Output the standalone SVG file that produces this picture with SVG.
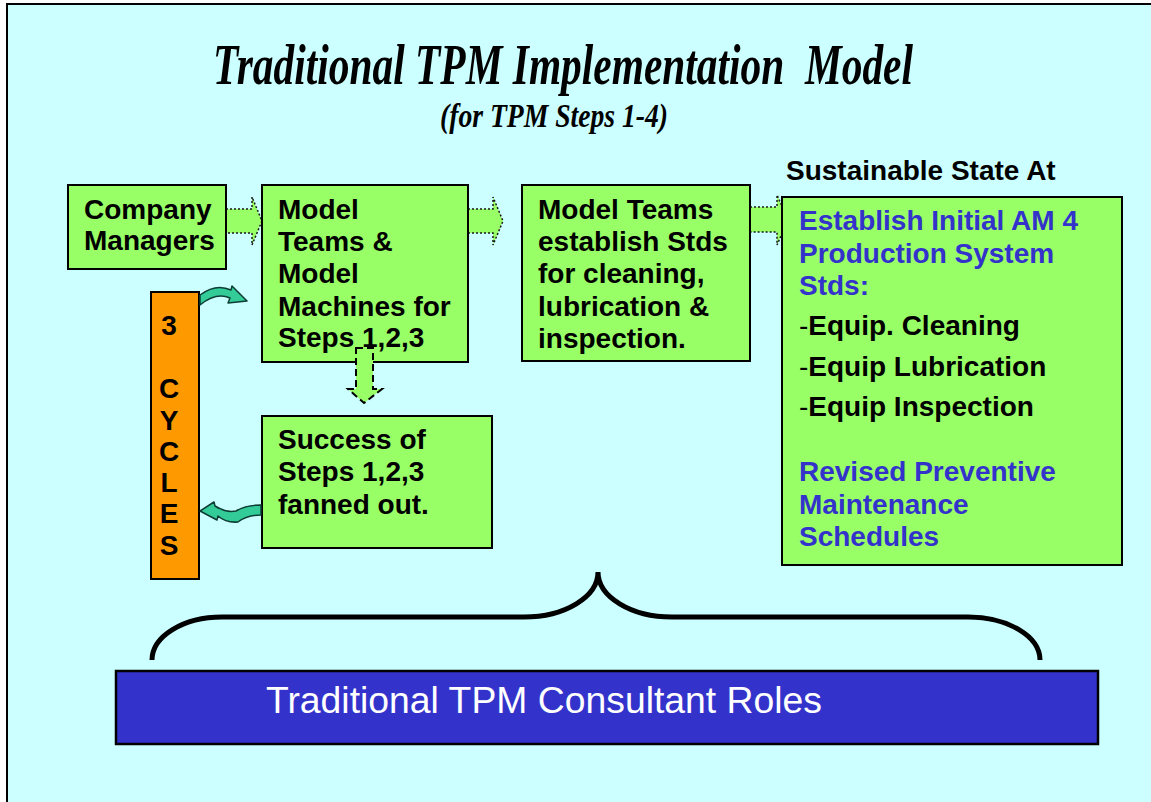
<svg xmlns="http://www.w3.org/2000/svg" width="1151" height="802" viewBox="0 0 1151 802">
<defs>
<style>
.box{fill:#99FF66;stroke:#000;stroke-width:2}
.t{font-family:"Liberation Sans",Arial,sans-serif;font-weight:bold;font-size:28px;fill:#000}
.blue{fill:#3333CC}
.dot{fill:#99FF66;stroke:#1a1a1a;stroke-width:1.5;stroke-dasharray:2 2}
.dash{fill:#99FF66;stroke:#000;stroke-width:2;stroke-dasharray:7 4}
.curl{fill:#33CC99;stroke:#0d3d33;stroke-width:1.5;stroke-linejoin:round}
.title{font-family:"Liberation Serif","Times New Roman",serif;font-weight:bold;font-style:italic;fill:#000}
</style>
</defs>
<rect x="0" y="0" width="1151" height="802" fill="#FFFFFF"/>
<rect id="frame" x="7" y="4" width="1200" height="900" fill="#CCFFFF" stroke="#000" stroke-width="2"/>

<g id="title">
<text class="title" x="213" y="84" font-size="56" textLength="700" lengthAdjust="spacingAndGlyphs" xml:space="preserve">Traditional TPM Implementation  Model</text>
<text class="title" x="440" y="127" font-size="33" textLength="228" lengthAdjust="spacingAndGlyphs">(for TPM Steps 1-4)</text>
</g>

<g id="connectors">
<polygon class="dot" points="226,209 252,209 252,197 262,221 252,245 252,233 226,233"/>
<polygon class="dot" points="468,209 493,209 493,197 503,221 493,245 493,233 468,233"/>
<polygon class="dot" points="750,207 777,207 777,195 788,220 777,245 777,232 750,232"/>
</g>

<g id="company-managers">
<rect class="box" x="68" y="185" width="158" height="84"/>
<text class="t" x="84" y="219" font-size="26.5">Company</text>
<text class="t" x="84" y="250" font-size="26.5">Managers</text>
</g>

<g id="model-teams">
<rect class="box" x="262" y="185" width="206" height="177"/>
<text class="t" x="278" y="219">Model</text>
<text class="t" x="278" y="251">Teams &amp;</text>
<text class="t" x="278" y="283">Model</text>
<text class="t" x="278" y="316">Machines for</text>
<text class="t" x="278" y="347">Steps 1,2,3</text>
</g>

<g id="down-arrow">
<polygon class="dash" points="356,348 373,348 373,389 382,389 364,403 348,389 356,389"/>
</g>

<g id="model-teams-stds">
<rect class="box" x="522" y="185" width="228" height="176"/>
<text class="t" x="538" y="219">Model Teams</text>
<text class="t" x="538" y="251">establish Stds</text>
<text class="t" x="538" y="283">for cleaning,</text>
<text class="t" x="538" y="316">lubrication &amp;</text>
<text class="t" x="538" y="348">inspection.</text>
</g>

<g id="success">
<rect class="box" x="262" y="416" width="230" height="132"/>
<text class="t" x="278" y="449">Success of</text>
<text class="t" x="278" y="481">Steps 1,2,3</text>
<text class="t" x="278" y="514">fanned out.</text>
</g>

<g id="sustainable">
<text class="t" x="786" y="180">Sustainable State At</text>
<rect class="box" x="782" y="197" width="340" height="368"/>
<text class="t blue" x="799" y="230">Establish Initial AM 4</text>
<text class="t blue" x="799" y="263">Production System</text>
<text class="t blue" x="799" y="295">Stds:</text>
<text class="t" x="799" y="335"><tspan font-weight="normal">-</tspan>Equip. Cleaning</text>
<text class="t" x="799" y="376"><tspan font-weight="normal">-</tspan>Equip Lubrication</text>
<text class="t" x="799" y="416"><tspan font-weight="normal">-</tspan>Equip Inspection</text>
<text class="t blue" x="799" y="481">Revised Preventive</text>
<text class="t blue" x="799" y="514">Maintenance</text>
<text class="t blue" x="799" y="546">Schedules</text>
</g>

<g id="cycles">
<rect x="151" y="292" width="48" height="287" fill="#FF9900" stroke="#000" stroke-width="2"/>
<g class="t" text-anchor="middle">
<text x="169" y="335">3</text>
<text x="169" y="398">C</text>
<text x="169" y="430">Y</text>
<text x="169" y="461">C</text>
<text x="169" y="492">L</text>
<text x="169" y="523">E</text>
<text x="169" y="555">S</text>
</g>
</g>

<g id="cycle-arrows">
<path class="curl" d="M200,295 Q216,283 231,290 L232,286 L247,301 L228,303 L230,298 Q216,292 200,305 Z"/>
<path class="curl" d="M261,505 L261,515 Q247,515 238,522 Q226,523 218,516 L217,520 L200,511 L214,502 L215,506 Q226,513 236,511 Q246,505 261,505 Z"/>
</g>

<g id="brace">
<path d="M152,660 A70,43 0 0 1 222,617 L524,617 A74,45 0 0 0 598,572 A74,45 0 0 0 672,617 L968,617 A72,43 0 0 1 1040,660" fill="none" stroke="#000" stroke-width="5"/>
</g>

<g id="consultant-roles">
<rect x="116" y="671" width="982" height="73" fill="#3333CC" stroke="#000" stroke-width="2.5"/>
<text x="266" y="713" font-family="'Liberation Sans',Arial,sans-serif" font-size="36.5" fill="#FFFFFF" textLength="556" lengthAdjust="spacingAndGlyphs">Traditional TPM Consultant Roles</text>
</g>
</svg>
